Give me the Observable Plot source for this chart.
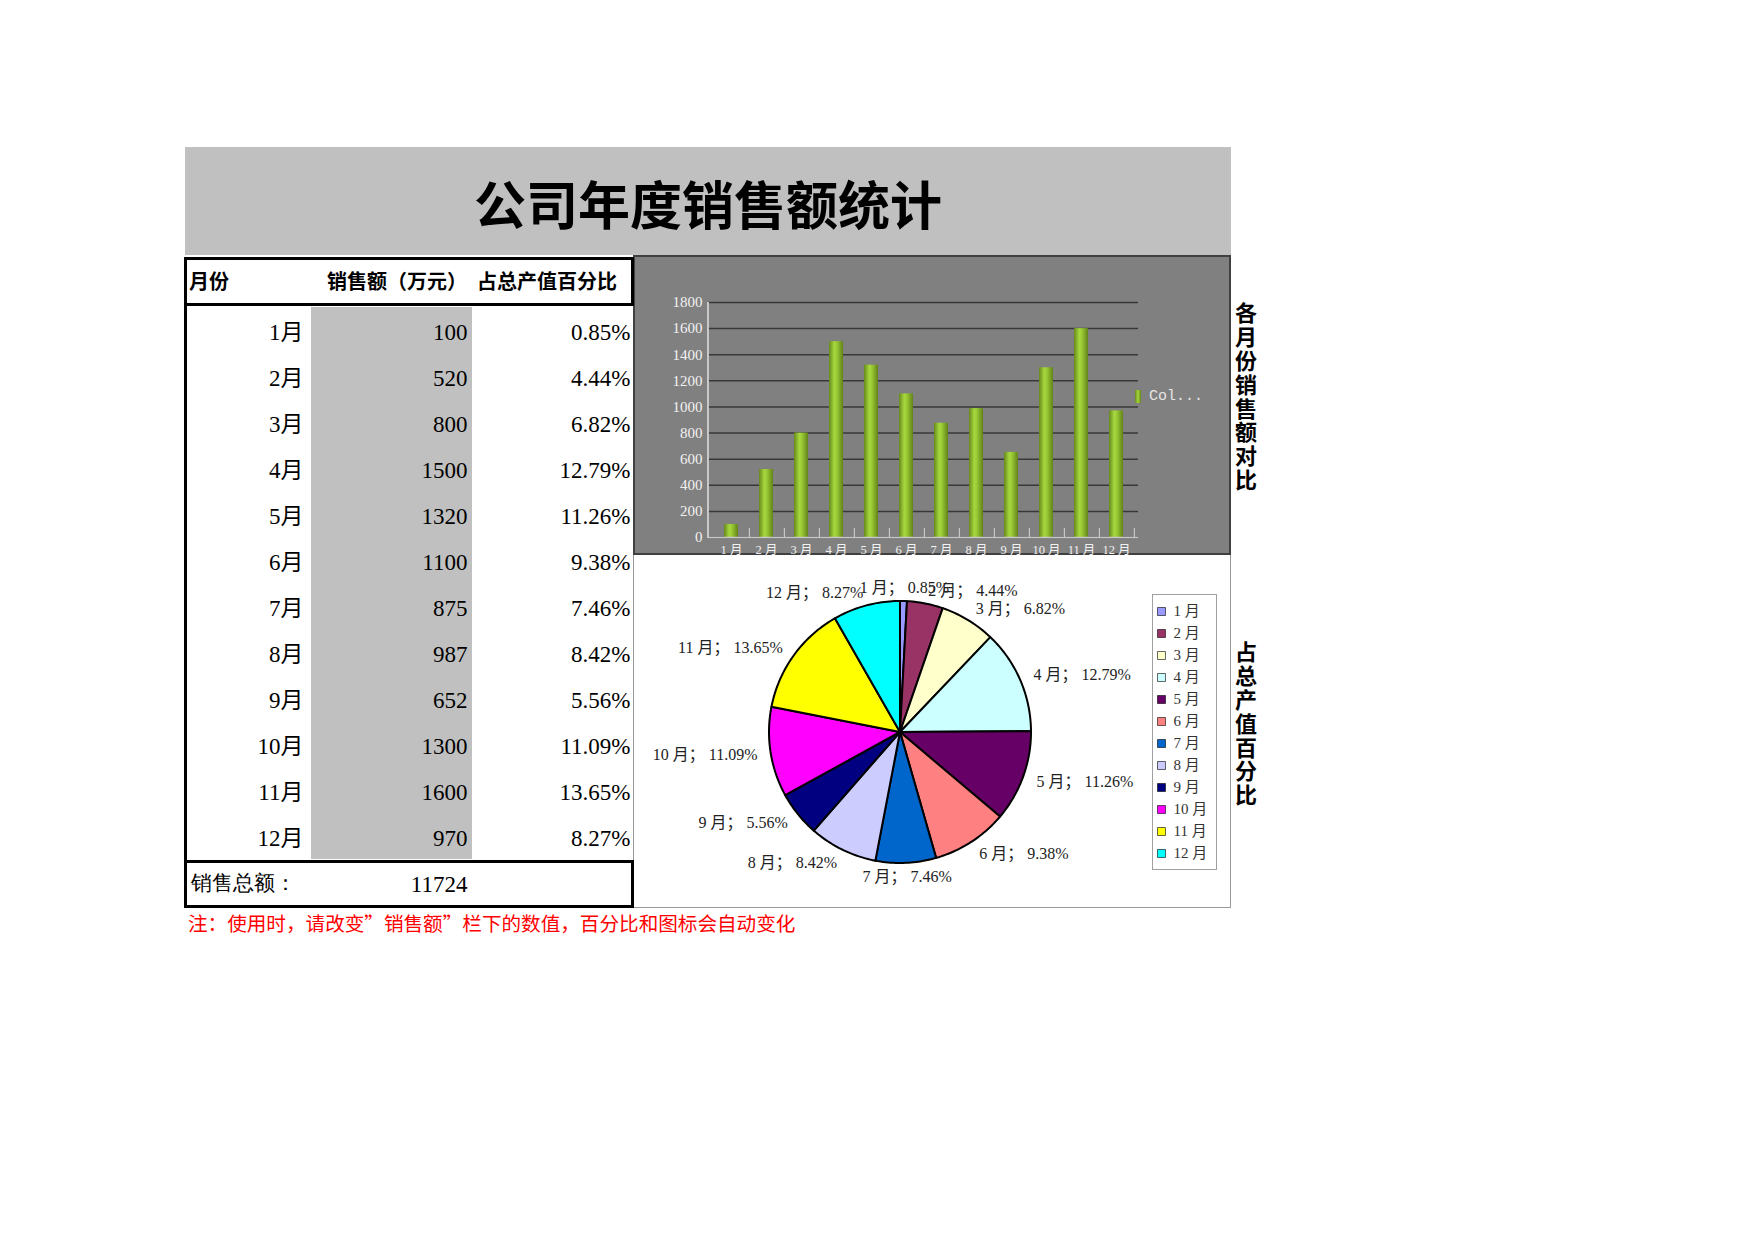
<!DOCTYPE html>
<html><head><meta charset="utf-8">
<script src="https://cdn.jsdelivr.net/npm/d3@7"></script>
<script src="https://cdn.jsdelivr.net/npm/@observablehq/plot@0.6"></script>
<style>
body{margin:0;background:#fff;}
#page{position:relative;width:1754px;height:1240px;overflow:hidden;font-family:"Noto Sans CJK SC",sans-serif;background:#fff;}
.abs{position:absolute;box-sizing:border-box;}
</style></head><body><div id="page"></div>
<script>
// ---------- data ----------
const months = ["1月","2月","3月","4月","5月","6月","7月","8月","9月","10月","11月","12月"];
const sales = [100,520,800,1500,1320,1100,875,987,652,1300,1600,970];
const yTicks = [0,200,400,600,800,1000,1200,1400,1600,1800];
const pieColors = ["#9999ff","#993366","#ffffcc","#ccffff","#660066","#ff8080","#0066cc","#ccccff","#000080","#ff00ff","#ffff00","#00ffff"];
const title = "公司年度销售额统计";
const headers = ["月份","销售额（万元）","占总产值百分比"];
const totalLabel = "销售总额：";
const note = "注：使用时，请改变”销售额”栏下的数值，百分比和图标会自动变化";
const barTitle = "各月份销售额对比";
const pieTitle = "占总产值百分比";
const barLegend = "Col...";

// ---------- helpers ----------
const page = document.getElementById("page");
function box(x, y, w, h, style, text) {
  const d = document.createElement("div");
  d.className = "abs";
  Object.assign(d.style, {left: x + "px", top: y + "px", width: w + "px", height: h + "px"}, style || {});
  if (text !== undefined) d.textContent = text;
  page.appendChild(d);
  return d;
}
function place(svg, x, y) {
  svg.style.position = "absolute";
  svg.style.left = x + "px";
  svg.style.top = y + "px";
  page.appendChild(svg);
  return svg;
}
const serif = "'Liberation Serif','Noto Sans CJK SC',serif";
const total = d3.sum(sales);
const pct = v => (v / total * 100).toFixed(2) + "%";

// ---------- title band ----------
box(185, 147, 1046, 108, {background: "#c0c0c0"});
box(185, 147, 1046, 108, {display: "flex", alignItems: "center", justifyContent: "center",
  fontSize: "52px", fontWeight: "bold", color: "#000", paddingTop: "2px"}, title);

// ---------- panels ----------
box(633, 555, 598, 353, {background: "#fff", borderLeft: "1.5px solid #999", borderRight: "1.5px solid #999", borderBottom: "1.5px solid #999"});
box(633, 255, 598, 300, {background: "#808080", border: "2px solid #404040"});

// ---------- bar chart ----------
const barData = months.map((m, i) => ({month: m, value: sales[i]}));
const step = (598 - 75 - 93) / months.length;
const barPlot = Plot.plot({
  width: 598, height: 300, marginLeft: 75, marginRight: 93, marginTop: 47, marginBottom: 18,
  x: {type: "band", domain: months, paddingInner: 0.6, paddingOuter: 0.3},
  y: {domain: [0, 1800]},
  style: {background: "transparent", color: "#f0f0f0", fontFamily: serif, fontSize: "15px", overflow: "visible"},
  marks: [
    Plot.gridY({ticks: yTicks, stroke: "#383838", strokeOpacity: 1, strokeWidth: 1.5}),
    Plot.barY(barData, {x: "month", y: "value", fill: "url(#barGrad)"}),
    Plot.ruleY([0], {stroke: "#c8c8c8", strokeWidth: 1.5}),
    Plot.ruleX(months, {x: d => d, dx: step / 2, y1: 0, y2: 68, stroke: "#c8c8c8", strokeWidth: 1.2}),
    Plot.axisY({ticks: yTicks, tickSize: 0, tickPadding: 6, fontSize: 15, fill: "#f2f2f2", label: null, tickFormat: d => String(d)}),
    Plot.axisX({tickSize: 0, tickPadding: 8, fontSize: 12.5, fill: "#f2f2f2", label: null, tickFormat: d => d.replace("月", " 月")})
  ]
});
const defs = document.createElementNS("http://www.w3.org/2000/svg", "defs");
defs.innerHTML = `<linearGradient id="barGrad" x1="0" x2="1" y1="0" y2="0">
  <stop offset="0" stop-color="#66881c"/><stop offset="0.38" stop-color="#a6d83e"/>
  <stop offset="0.55" stop-color="#9acb35"/><stop offset="1" stop-color="#628318"/></linearGradient>`;
barPlot.prepend(defs);
place(barPlot, 633, 255);
// y axis line
box(707, 302, 2, 236, {background: "#c8c8c8"});
// bar legend
box(1135, 390, 6, 13, {background: "linear-gradient(90deg,#66881c,#a6d83e,#628318)"});
box(1149, 386, 80, 22, {fontFamily: "'Liberation Mono',monospace", fontSize: "15px", color: "#e6e6e6", lineHeight: "22px"}, barLegend);

// ---------- pie chart ----------
const arcs = d3.pie().sort(null).value(d => d)(sales);
const slicePts = [];
arcs.forEach((a, i) => {
  const n = Math.max(2, Math.ceil((a.endAngle - a.startAngle) / 0.02));
  for (let k = 0; k <= n; k++) {
    const t = a.startAngle + (a.endAngle - a.startAngle) * k / n;
    slicePts.push({month: months[i], x: Math.sin(t), y: Math.cos(t)});
  }
});
const labels = arcs.map((a, i) => {
  const m = (a.startAngle + a.endAngle) / 2;
  return {x: 1.105 * Math.sin(m), y: 1.105 * Math.cos(m), s: Math.sin(m),
    label: `${i + 1} 月； ${pct(sales[i])}`};
});
const R = 131, cx = 267, cy = 177, PW = 597, PH = 353;
const labelStyle = {fontSize: 16, fill: "#222", fontFamily: serif};
const piePlot = Plot.plot({
  width: PW, height: PH, margin: 0,
  x: {domain: [-cx / R, (PW - cx) / R], range: [0, PW], axis: null},
  y: {domain: [-(PH - cy) / R, cy / R], range: [PH, 0], axis: null},
  color: {type: "ordinal", domain: months, range: pieColors},
  style: {background: "transparent", overflow: "visible"},
  marks: [
    Plot.area(slicePts, {x1: "x", y1: "y", x2: 0, y2: 0, z: "month", fill: "month", stroke: "#000", strokeWidth: 2, strokeLinejoin: "round"}),
    Plot.text(labels.filter(d => Math.abs(d.s) < 0.12), {x: "x", y: "y", text: "label", textAnchor: "middle", ...labelStyle}),
    Plot.text(labels.filter(d => d.s >= 0.12), {x: "x", y: "y", text: "label", textAnchor: "start", ...labelStyle}),
    Plot.text(labels.filter(d => d.s <= -0.12), {x: "x", y: "y", text: "label", textAnchor: "end", ...labelStyle})
  ]
});
place(piePlot, 633, 555);

// pie legend
box(1152, 594, 65, 276, {border: "1px solid #a0a0a0", background: "#fff"});
const legendPlot = Plot.plot({
  width: 63, height: 274, margin: 0,
  y: {type: "point", domain: months, range: [13.5, 261], padding: 0, axis: null},
  color: {type: "ordinal", domain: months, range: pieColors},
  style: {background: "transparent", overflow: "visible"},
  marks: [
    Plot.dot(months, {y: d => d, fill: d => d, symbol: "square", r: 4.5, stroke: "#000", strokeWidth: 0.6, frameAnchor: "left", dx: 8}),
    Plot.text(months, {y: d => d, text: d => d.replace("月", " 月"), frameAnchor: "left", dx: 20, textAnchor: "start", fontSize: 15, fill: "#333", fontFamily: serif})
  ]
});
place(legendPlot, 1153, 595);

// vertical titles
const vStyle = {writingMode: "vertical-rl", fontSize: "22px", fontWeight: "bold", letterSpacing: "1.8px", lineHeight: "24px", color: "#000"};
box(1234, 302, 24, 205, vStyle, barTitle);
box(1234, 641, 24, 180, vStyle, pieTitle);

// ---------- table ----------
const rows = months.map((m, i) => ({key: m, month: m, sales: sales[i], pct: pct(sales[i])}));
const tFont = {fontSize: 23, fontFamily: serif, fill: "#000", dy: 2};
const tablePlot = Plot.plot({
  width: 444, height: 604, margin: 0,
  x: {domain: [0, 444], range: [0, 444], axis: null},
  y: {type: "band", domain: [...months, "total"], range: [0, 604], padding: 0, axis: null},
  style: {background: "transparent", overflow: "visible"},
  marks: [
    Plot.barX(rows, {y: "key", x1: 124, x2: 285, fill: "#c0c0c0"}),
    Plot.text(rows, {y: "key", x: 116, text: "month", textAnchor: "end", ...tFont}),
    Plot.text(rows, {y: "key", x: 280, text: d => String(d.sales), textAnchor: "end", ...tFont}),
    Plot.text(rows, {y: "key", x: 443, text: "pct", textAnchor: "end", ...tFont}),
    Plot.text([total], {y: () => "total", x: 3, text: () => totalLabel, textAnchor: "start", fontSize: 21, fill: "#000", dy: 1}),
    Plot.text([total], {y: () => "total", x: 280, text: d => String(d), textAnchor: "end", ...tFont})
  ]
});
place(tablePlot, 187, 304);

// header texts
const hStyle = {fontSize: "20px", fontWeight: "bold", lineHeight: "26px", color: "#000", whiteSpace: "nowrap"};
box(189, 268, 100, 26, hStyle, headers[0]);
box(327, 268, 150, 26, hStyle, headers[1]);
box(477, 268, 150, 26, hStyle, headers[2]);

// table borders
const K = {background: "#000"};
box(184, 257, 3, 651, K);
box(184, 257, 450, 3, K);
box(184, 303, 450, 3, K);
box(631, 257, 3, 49, K);
box(184, 860, 450, 3, K);
box(184, 905, 450, 3, K);
box(631, 860, 3, 48, K);

// note
box(188, 910, 700, 26, {color: "#ff0000", fontSize: "19.6px", lineHeight: "26px", whiteSpace: "nowrap"}, note);
</script></body></html>
